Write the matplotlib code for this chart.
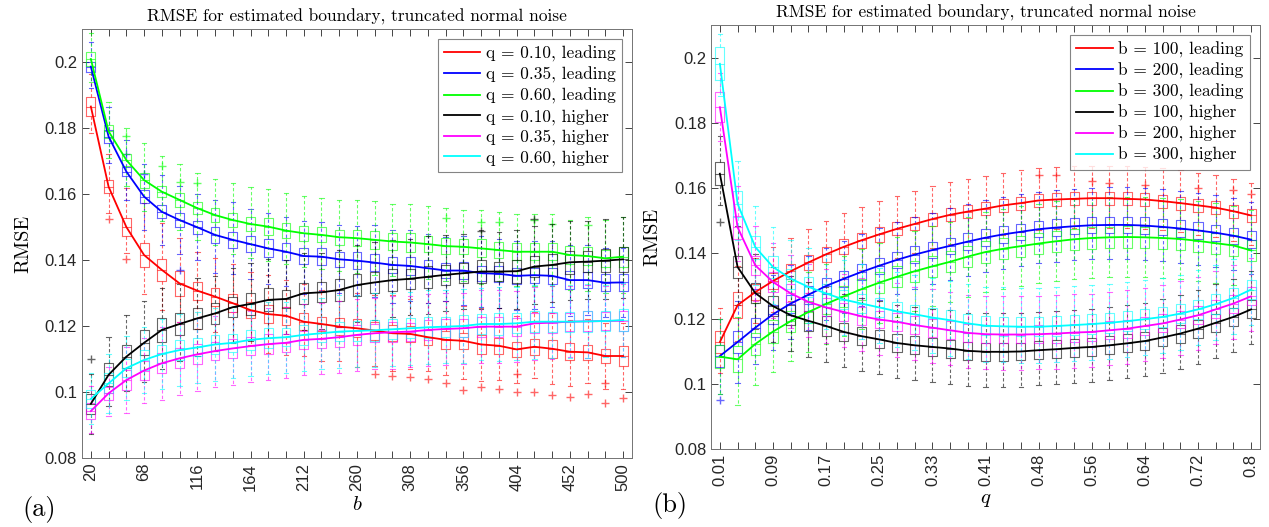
import numpy as np
import matplotlib.pyplot as plt

plt.rcParams['mathtext.fontset'] = 'cm'

######################################################################
# Data (RMSE values).  Box spreads and whisker
# lengths are given in units of 1e-3.
b_vals = np.arange(20, 501, 16)
q_vals = np.linspace(0.01, 0.8, 31)

b_ticklabels = ['20', '68', '116', '164', '212', '260', '308', '356', '404', '452', '500']
q_ticklabels = ['0.01', '0.09', '0.17', '0.25', '0.33', '0.41', '0.48', '0.56', '0.64', '0.72', '0.8']
y_ticks = [0.08, 0.10, 0.12, 0.14, 0.16, 0.18, 0.20]
y_ticklabels = ['0.08', '0.1', '0.12', '0.14', '0.16', '0.18', '0.2']

title_text = 'RMSE for estimated boundary, truncated normal noise'

# ---- panel (a): RMSE against b ----
a_labels = ['q = 0.10, leading', 'q = 0.35, leading', 'q = 0.60, leading',
            'q = 0.10, higher', 'q = 0.35, higher', 'q = 0.60, higher']
a_mid = [
    [0.1865, 0.1622, 0.1500, 0.1415, 0.1370, 0.1329, 0.1307, 0.1289, 0.1269, 0.1248, 0.1236,
     0.1231, 0.1213, 0.1206, 0.1198, 0.1193, 0.1186, 0.1178, 0.1176, 0.1166, 0.1158,
     0.1155, 0.1144, 0.1140, 0.1129, 0.1137, 0.1131, 0.1122, 0.1120, 0.1109, 0.1109],
    [0.1986, 0.1774, 0.1668, 0.1592, 0.1546, 0.1521, 0.1499, 0.1476, 0.1461, 0.1448, 0.1435,
     0.1425, 0.1412, 0.1410, 0.1402, 0.1398, 0.1392, 0.1385, 0.1382, 0.1375, 0.1368,
     0.1368, 0.1360, 0.1358, 0.1352, 0.1354, 0.1352, 0.1339, 0.1339, 0.1331, 0.1332],
    [0.2009, 0.1790, 0.1703, 0.1642, 0.1607, 0.1582, 0.1557, 0.1536, 0.1521, 0.1509, 0.1501,
     0.1489, 0.1481, 0.1476, 0.1469, 0.1466, 0.1461, 0.1456, 0.1453, 0.1448, 0.1442,
     0.1440, 0.1435, 0.1430, 0.1425, 0.1425, 0.1425, 0.1415, 0.1412, 0.1405, 0.1410],
    [0.0964, 0.1052, 0.1107, 0.1149, 0.1188, 0.1206, 0.1223, 0.1238, 0.1257, 0.1267, 0.1279,
     0.1282, 0.1299, 0.1302, 0.1309, 0.1324, 0.1332, 0.1339, 0.1343, 0.1349, 0.1355,
     0.1360, 0.1365, 0.1365, 0.1366, 0.1380, 0.1385, 0.1393, 0.1395, 0.1398, 0.1402],
    [0.0942, 0.0996, 0.1036, 0.1065, 0.1087, 0.1102, 0.1114, 0.1124, 0.1132, 0.1139, 0.1145,
     0.1149, 0.1158, 0.1161, 0.1166, 0.1173, 0.1178, 0.1181, 0.1183, 0.1188, 0.1191,
     0.1193, 0.1198, 0.1198, 0.1198, 0.1208, 0.1210, 0.1213, 0.1214, 0.1215, 0.1216],
    [0.0979, 0.1026, 0.1072, 0.1097, 0.1115, 0.1127, 0.1135, 0.1144, 0.1149, 0.1158, 0.1163,
     0.1166, 0.1173, 0.1178, 0.1183, 0.1185, 0.1187, 0.1190, 0.1193, 0.1196, 0.1198,
     0.1200, 0.1206, 0.1206, 0.1208, 0.1213, 0.1213, 0.1213, 0.1214, 0.1215, 0.1218],
]
a_iqr = [
    [6, 4, 5.5, 7.5, 6.5, 7.5, 5.5, 5.5, 5.5, 5, 5.5, 5.5, 5, 4.5, 5, 5.5, 5.5, 5, 5, 4.5, 5.5,
     5, 6, 5, 4.5, 5, 5.5, 5, 4.5, 4, 6],
    [3, 4, 3, 4, 4, 4.5, 4, 5, 5, 5, 5.5, 5, 5, 5, 4.5, 5, 5, 5, 5.5, 5, 4.5, 5, 4.5, 5, 5,
     4.5, 5, 5.5, 5, 5, 5],
    [4, 4, 3.5, 4.5, 3.5, 4, 3.5, 4, 4.5, 4.5, 5, 4.5, 4.5, 4.5, 4.5, 5, 5.5, 5, 5.5, 5, 5,
     4.5, 5.5, 5, 5, 5, 5, 5.5, 5.5, 5, 6],
    [6, 7, 7, 7.5, 7.5, 6.5, 6.5, 6.5, 6, 6.5, 7, 5.5, 6.5, 6, 6.5, 6.5, 6.5, 6.5, 6, 6.5, 6,
     6, 7, 6, 7, 6.5, 6.5, 7, 6.5, 7, 7.5],
    [5, 4, 6, 5.5, 6, 6, 6, 5.5, 6, 5.5, 6, 5.5, 5.5, 5.5, 6, 6, 5.5, 6, 5.5, 6, 6, 5.5, 6, 6,
     5.5, 6, 6, 5.5, 6, 5.5, 6],
    [5.5, 6, 5.5, 6, 5.5, 6, 5.5, 6, 5.5, 6, 6, 5.5, 6, 5.5, 6, 6, 6.5, 6, 6, 6.5, 6, 6.5, 6,
     6.5, 6, 6.5, 6, 6, 6.5, 6, 6.5],
]
a_wlo = [
    [5, 6, 5, 8, 9, 8, 9, 8, 9, 8, 9, 9, 8, 9, 8, 9, 8, 9, 8, 8, 8, 9, 8, 8, 8, 7, 8, 8, 7, 8, 7],
    [5, 6, 7, 8, 8, 8, 8, 9, 8, 8, 8, 8, 9, 8, 8, 8, 8, 9, 8, 8, 7, 8, 8, 8, 8, 8, 7, 8, 8, 8, 8],
    [5, 6, 6, 7, 7, 7, 8, 7, 8, 8, 8, 8, 8, 8, 8, 8, 8, 8, 8, 8, 8, 8, 8, 7, 8, 8, 8, 8, 8, 8, 8],
    [6, 6, 7, 8, 8, 8, 8, 8, 8, 8, 8, 8, 8, 8, 8, 8, 8, 8, 8, 8, 8, 8, 8, 8, 8, 8, 8, 8, 8, 8, 8],
    [4, 5, 7, 7, 8, 8, 8, 8, 8, 8, 8, 8, 8, 8, 8, 8, 8, 8, 8, 8, 8, 8, 8, 8, 8, 8, 8, 8, 8, 8, 8],
    [5, 6, 7, 7, 8, 8, 8, 8, 8, 8, 8, 8, 8, 8, 8, 8, 8, 8, 8, 8, 8, 8, 8, 8, 8, 8, 8, 8, 8, 8, 8],
]
a_whi = [
    [7, 8, 9, 12, 11, 10, 9, 9, 9, 9, 9, 8, 9, 8, 9, 8, 8, 9, 8, 8, 9, 8, 8, 9, 8, 8, 8, 7, 8, 8, 7],
    [6, 7, 8, 8, 9, 8, 8, 8, 9, 8, 8, 8, 8, 8, 8, 8, 9, 8, 8, 8, 8, 8, 9, 8, 8, 8, 8, 8, 8, 8, 8],
    [6, 7, 8, 9, 9, 9, 9, 9, 9, 9, 9, 9, 9, 9, 9, 9, 9, 9, 9, 9, 9, 9, 9, 9, 9, 9, 9, 8, 9, 9, 9],
    [6, 8, 9, 9, 9, 9, 9, 8, 9, 9, 9, 9, 9, 9, 9, 9, 9, 9, 9, 9, 9, 9, 9, 9, 9, 9, 9, 9, 9, 9, 9],
    [5, 6, 7, 7, 8, 8, 8, 8, 8, 8, 8, 8, 8, 8, 8, 8, 8, 8, 8, 8, 8, 8, 8, 8, 8, 8, 8, 8, 8, 8, 8],
    [5, 6, 7, 7, 8, 8, 8, 8, 8, 8, 8, 8, 8, 8, 8, 8, 8, 8, 8, 8, 8, 8, 8, 8, 8, 8, 8, 8, 8, 8, 8],
]
a_out = [
    {1: [0.1524], 2: [0.1403], 16: [0.1055], 17: [0.1048], 18: [0.1045], 19: [0.1039],
     20: [0.1028], 21: [0.1006], 22: [0.1014], 23: [0.1008], 24: [0.1055, 0.1001],
     25: [0.0999], 26: [0.0990], 27: [0.0986], 28: [0.0993], 29: [0.1026, 0.0966], 30: [0.0981]},
    {2: [0.1720], 3: [0.1660], 5: [0.1370]},
    {2: [0.1776], 4: [0.1685], 5: [0.1637], 6: [0.1632], 20: [0.1526], 22: [0.1514],
     23: [0.1514], 25: [0.1520], 26: [0.1510], 28: [0.1505]},
    {0: [0.1100], 22: [0.1489], 25: [0.1524]},
    {},
    {},
]

# ---- panel (b): RMSE against q ----
b_labels = ['b = 100, leading', 'b = 200, leading', 'b = 300, leading',
            'b = 100, higher', 'b = 200, higher', 'b = 300, higher']
b_mid = [
    [0.1128, 0.1241, 0.1281, 0.1315, 0.1345, 0.1372, 0.1397, 0.1420, 0.1440, 0.1458, 0.1475,
     0.1490, 0.1505, 0.1518, 0.1528, 0.1537, 0.1547, 0.1554, 0.1562, 0.1565, 0.1567,
     0.1569, 0.1569, 0.1567, 0.1565, 0.1560, 0.1554, 0.1547, 0.1540, 0.1529, 0.1516],
    [0.1085, 0.1128, 0.1172, 0.1213, 0.1246, 0.1273, 0.1300, 0.1322, 0.1343, 0.1362, 0.1380,
     0.1396, 0.1410, 0.1423, 0.1436, 0.1448, 0.1458, 0.1466, 0.1474, 0.1479, 0.1483,
     0.1486, 0.1487, 0.1487, 0.1485, 0.1481, 0.1476, 0.1470, 0.1463, 0.1454, 0.1442],
    [0.1083, 0.1075, 0.1122, 0.1160, 0.1192, 0.1220, 0.1245, 0.1268, 0.1290, 0.1310, 0.1328,
     0.1345, 0.1360, 0.1374, 0.1390, 0.1404, 0.1414, 0.1422, 0.1430, 0.1437, 0.1443,
     0.1447, 0.1449, 0.1450, 0.1449, 0.1447, 0.1444, 0.1438, 0.1431, 0.1424, 0.1409],
    [0.1644, 0.1358, 0.1278, 0.1238, 0.1210, 0.1193, 0.1177, 0.1159, 0.1146, 0.1136, 0.1125,
     0.1118, 0.1113, 0.1108, 0.1101, 0.1098, 0.1098, 0.1099, 0.1103, 0.1106, 0.1110,
     0.1113, 0.1118, 0.1124, 0.1131, 0.1142, 0.1154, 0.1169, 0.1187, 0.1205, 0.1228],
    [0.1848, 0.1480, 0.1363, 0.1312, 0.1277, 0.1251, 0.1234, 0.1220, 0.1207, 0.1197, 0.1190,
     0.1180, 0.1172, 0.1164, 0.1156, 0.1152, 0.1151, 0.1151, 0.1152, 0.1154, 0.1157,
     0.1159, 0.1164, 0.1169, 0.1177, 0.1185, 0.1197, 0.1210, 0.1228, 0.1246, 0.1268],
    [0.1981, 0.1552, 0.1419, 0.1358, 0.1322, 0.1297, 0.1277, 0.1258, 0.1246, 0.1234, 0.1222,
     0.1213, 0.1203, 0.1195, 0.1185, 0.1178, 0.1176, 0.1175, 0.1175, 0.1177, 0.1180,
     0.1183, 0.1187, 0.1192, 0.1198, 0.1205, 0.1215, 0.1228, 0.1244, 0.1263, 0.1289],
]
b_iqr = [
    [7, 8, 5, 5, 4.5, 4.5, 4.5, 4.5, 4.5, 4.5, 4, 4, 4, 4, 4, 4, 4, 4, 4, 4, 4, 4, 4, 4, 4, 4,
     4, 4, 4, 4, 4],
    [7, 7, 6, 6, 5.5, 5.5, 5, 5, 5, 5, 5, 5, 5, 5, 5, 5, 5, 5, 5, 5, 5, 5, 5, 5, 5, 5, 5, 5, 5,
     5, 5],
    [7, 8, 7, 7, 6.5, 6.5, 6.5, 6.5, 6.5, 6.5, 6.5, 6.5, 6.5, 6.5, 6.5, 6.5, 6.5, 6.5, 6.5, 6.5,
     6.5, 6.5, 6.5, 6.5, 6.5, 6.5, 6.5, 6.5, 6.5, 6.5, 6.5],
    [7, 7, 6, 6, 6, 6, 6, 5.5, 5.5, 5.5, 5.5, 5.5, 5.5, 5.5, 5.5, 5.5, 5.5, 5.5, 5.5, 5.5, 5.5,
     5.5, 5.5, 5.5, 5.5, 5.5, 5.5, 5.5, 5.5, 5.5, 5.5],
    [9, 7, 6, 6, 5.5, 5.5, 5.5, 5.5, 5.5, 5.5, 5.5, 5.5, 5.5, 5.5, 5.5, 5.5, 5.5, 5.5, 5.5, 5.5,
     5.5, 5.5, 5.5, 5.5, 5.5, 5.5, 5.5, 5.5, 5.5, 5.5, 5.5],
    [10, 8, 7, 6.5, 6, 6, 6, 6, 6, 6, 6, 6, 6, 6, 6, 6, 6, 6, 6, 6, 6, 6, 6, 6, 6, 6, 6, 6, 6,
     6, 6],
]
b_wlo = [
    [6, 7, 7, 7, 7, 7, 7, 7, 7, 7, 7, 7, 7, 7, 7, 7, 7, 7, 7, 7, 7, 7, 7, 7, 7, 7, 7, 7, 7, 7, 7],
    [8, 9, 8, 8, 8, 8, 8, 8, 8, 8, 8, 8, 8, 8, 8, 8, 8, 8, 8, 8, 8, 8, 8, 8, 8, 8, 8, 8, 8, 8, 8],
    [8, 10, 9, 9, 9, 9, 9, 9, 9, 9, 9, 9, 9, 9, 9, 9, 9, 9, 9, 9, 9, 9, 9, 9, 9, 9, 9, 9, 9, 9, 9],
    [6, 8, 8, 8, 8, 8, 8, 8, 8, 8, 8, 8, 8, 8, 8, 8, 8, 8, 8, 8, 8, 8, 8, 8, 8, 8, 8, 8, 8, 8, 8],
    [6, 7, 8, 8, 8, 8, 8, 8, 8, 8, 8, 8, 8, 8, 8, 8, 8, 8, 8, 8, 8, 8, 8, 8, 8, 8, 8, 8, 8, 8, 8],
    [5, 7, 8, 8, 8, 8, 8, 8, 8, 8, 8, 8, 8, 8, 8, 8, 8, 8, 8, 8, 8, 8, 8, 8, 8, 8, 8, 8, 8, 8, 8],
]
b_whi = [
    [7, 8, 8, 8, 8, 8, 8, 8, 8, 8, 8, 8, 8, 8, 8, 8, 8, 8, 8, 8, 8, 8, 8, 8, 8, 8, 8, 8, 8, 8, 8],
    [8, 9, 9, 9, 9, 9, 9, 9, 9, 9, 9, 9, 9, 9, 9, 9, 9, 9, 9, 9, 9, 9, 9, 9, 9, 9, 9, 9, 9, 9, 9],
    [8, 9, 9, 9, 9, 9, 9, 9, 9, 9, 9, 9, 9, 9, 9, 9, 9, 9, 9, 9, 9, 9, 9, 9, 9, 9, 9, 9, 9, 9, 9],
    [8, 9, 9, 9, 9, 9, 9, 9, 9, 9, 9, 9, 9, 9, 9, 9, 9, 9, 9, 9, 9, 9, 9, 9, 9, 9, 9, 9, 9, 9, 9],
    [6, 9, 9, 9, 9, 9, 9, 9, 9, 9, 9, 9, 9, 9, 9, 9, 9, 9, 9, 9, 9, 9, 9, 9, 9, 9, 9, 9, 9, 9, 9],
    [4, 9, 9, 9, 9, 9, 9, 9, 9, 9, 9, 9, 9, 9, 9, 9, 9, 9, 9, 9, 9, 9, 9, 9, 9, 9, 9, 9, 9, 9, 9],
]
b_out = [
    {18: [0.1639], 19: [0.1639], 21: [0.1621], 22: [0.1615], 24: [0.1610], 27: [0.1600],
     29: [0.1593], 30: [0.1583]},
    {0: [0.0950]},
    {},
    {0: [0.1496]},
    {},
    {},
]

colors = ['#ff0000', '#0000ff', '#00ff00', '#000000', '#ff00ff', '#00ffff']
CM = 'cmr10'   # Computer Modern, shipped with matplotlib


######################################################################
def draw_panel(ax, x, mids, iqrs, wlos, whis, outs, labels, width):
    for k in range(len(mids)):
        c = colors[k]
        stats = []
        for i in range(len(x)):
            half = iqrs[k][i] * 1e-3 / 2
            q1 = mids[k][i] - half
            q3 = mids[k][i] + half
            stats.append(dict(med=mids[k][i], q1=q1, q3=q3,
                              whislo=q1 - wlos[k][i] * 1e-3,
                              whishi=q3 + whis[k][i] * 1e-3,
                              fliers=outs[k].get(i, [])))
        ax.bxp(stats, positions=x, widths=width, capwidths=width * 0.5,
               manage_ticks=False, showfliers=True,
               boxprops=dict(color=c, lw=0.8, alpha=0.6),
               medianprops=dict(color=c, lw=0.8, alpha=0.6),
               whiskerprops=dict(color=c, lw=0.8, alpha=0.6, linestyle=(0, (3, 2))),
               capprops=dict(color=c, lw=0.8, alpha=0.6),
               flierprops=dict(marker='+', markeredgecolor=c, markersize=6,
                               alpha=0.6, linestyle='none'))
    for k in range(len(mids)):
        ax.plot(x, mids[k], color=colors[k], lw=1.3, zorder=5, label=labels[k])
    ax.set_ylim(0.08, 0.21)
    ax.set_yticks(y_ticks)
    ax.set_yticklabels(y_ticklabels)
    ax.set_xticks(x)
    ax.tick_params(direction='in', top=True, right=True, length=5, width=0.6,
                   colors='0.15', labelsize=12)
    for lab in ax.get_xticklabels() + ax.get_yticklabels():
        lab.set_fontfamily('Liberation Sans')
    for s in ax.spines.values():
        s.set_color('0.45')
        s.set_linewidth(0.7)
    ax.set_title(title_text, fontsize=12.5, family=CM, pad=5)
    ax.set_ylabel('RMSE', fontsize=14.5, family=CM, labelpad=9)
    leg = ax.legend(loc='upper right', prop=dict(family=CM, size=12.5), handlelength=2.1,
                    labelspacing=0.28, borderaxespad=0.6, fancybox=False, borderpad=0.35,
                    handletextpad=0.3)
    leg.get_frame().set_edgecolor('0.4')
    leg.get_frame().set_linewidth(0.8)


fig = plt.figure(figsize=(12.69, 5.27), dpi=100)

ax1 = fig.add_axes([0.0646, 0.131, 0.4334, 0.814])
draw_panel(ax1, b_vals, a_mid, a_iqr, a_wlo, a_whi, a_out, a_labels, 8)
ax1.set_xlim(12, 508)
ax1.set_xticklabels([b_ticklabels[i // 3] if i % 3 == 0 else '' for i in range(len(b_vals))],
                    rotation=90)
ax1.set_xlabel(r'$b$', fontsize=15, labelpad=2)

ax2 = fig.add_axes([0.5603, 0.148, 0.4326, 0.8046])
draw_panel(ax2, q_vals, b_mid, b_iqr, b_wlo, b_whi, b_out, b_labels, 0.0135)
step = q_vals[1] - q_vals[0]
ax2.set_xlim(q_vals[0] - step / 2, q_vals[-1] + step / 2)
ax2.set_xticklabels([q_ticklabels[i // 3] if i % 3 == 0 else '' for i in range(len(q_vals))],
                    rotation=90)
ax2.set_xlabel(r'$q$', fontsize=15, labelpad=2)

fig.text(0.0173, 0.034, '(a)', fontsize=19, family=CM, ha='left', va='center')
fig.text(0.5138, 0.040, '(b)', fontsize=19, family=CM, ha='left', va='center')

fig.savefig('out.png', dpi=100)
